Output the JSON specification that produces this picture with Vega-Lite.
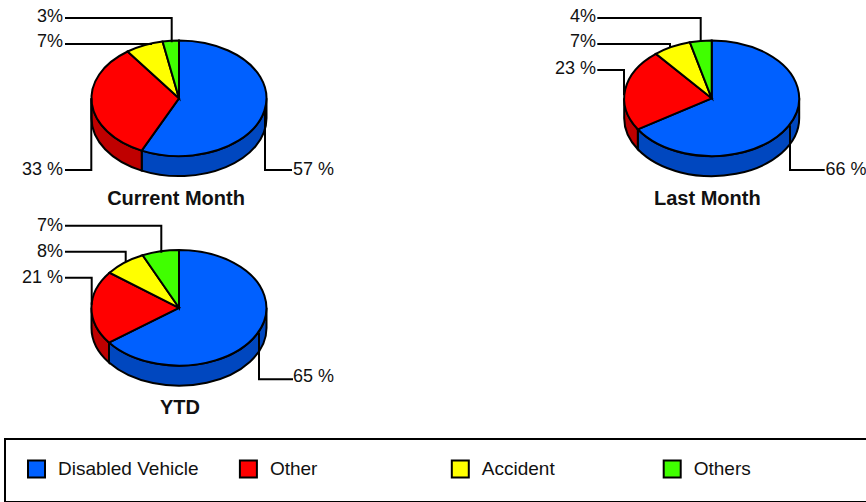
{"$schema":"https://vega.github.io/schema/vega-lite/v6.json","width":866,"height":502,"padding":0,"autosize":{"type":"none"},"background":"white","config":{"view":{"stroke":null},"font":"Liberation Sans","legend":{"strokeWidth":2}},
"datasets":{"slices":[
{"chart":"Current Month","panel":0,"category":"Disabled Vehicle","share":57,"label":"57 %","slice":0},
{"chart":"Current Month","panel":0,"category":"Other","share":33,"label":"33 %","slice":1},
{"chart":"Current Month","panel":0,"category":"Accident","share":7,"label":"7%","slice":2},
{"chart":"Current Month","panel":0,"category":"Others","share":3,"label":"3%","slice":3},
{"chart":"Last Month","panel":1,"category":"Disabled Vehicle","share":66,"label":"66 %","slice":4},
{"chart":"Last Month","panel":1,"category":"Other","share":23,"label":"23 %","slice":5},
{"chart":"Last Month","panel":1,"category":"Accident","share":7,"label":"7%","slice":6},
{"chart":"Last Month","panel":1,"category":"Others","share":4,"label":"4%","slice":7},
{"chart":"YTD","panel":2,"category":"Disabled Vehicle","share":65,"label":"65 %","slice":8},
{"chart":"YTD","panel":2,"category":"Other","share":21,"label":"21 %","slice":9},
{"chart":"YTD","panel":2,"category":"Accident","share":8,"label":"8%","slice":10},
{"chart":"YTD","panel":2,"category":"Others","share":7,"label":"7%","slice":11}],
"charts":[{"chart":"Current Month","panel":0},{"chart":"Last Month","panel":1},{"chart":"YTD","panel":2}]},
"layer":[
{"data":{"name":"slices"},"transform":[{"filter":"datum.category==='Disabled Vehicle'||datum.category==='Other'"}],
"mark":{"type":"point","filled":true,"opacity":1,"stroke":"black","strokeWidth":2,"size":4},
"encoding":{"x":{"field":"panel","type":"quantitative","axis":null,"scale":{"domain":[0,1,2],"range":[179,711.7,179],"zero":false,"nice":false}},
"y":{"field":"panel","type":"quantitative","axis":null,"scale":{"domain":[0,1,2],"range":[98.3,98.3,307.8],"zero":false,"nice":false}},
"fill":{"field":"category","type":"nominal","legend":null,"scale":{"domain":["Disabled Vehicle","Other"],"range":["#0047BF","#BF0000"]}},
"shape":{"field":"slice","type":"nominal","legend":null,"scale":{"domain":[0,1,4,5,8,9],"range":[
"M87.5,0L87.5,20A87.5,57.8,0,0,1,-37.3,72.3L-37.3,52.3A87.5,57.8,0,0,0,87.5,0Z",
"M-37.3,52.3L-37.3,72.3A87.5,57.8,0,0,1,-87.5,20L-87.5,0A87.5,57.8,0,0,0,-37.3,52.3Z",
"M87.5,0L87.5,20A87.5,57.8,0,0,1,-73.9,51L-73.9,31A87.5,57.8,0,0,0,87.5,0Z",
"M-73.9,31L-73.9,51A87.5,57.8,0,0,1,-87.5,20L-87.5,0A87.5,57.8,0,0,0,-73.9,31Z",
"M87.5,0L87.5,20A87.5,57.8,0,0,1,-70,54.8L-70,34.8A87.5,57.8,0,0,0,87.5,0Z",
"M-70,34.8L-70,54.8A87.5,57.8,0,0,1,-87.5,20L-87.5,0A87.5,57.8,0,0,0,-70,34.8Z"]}}}},
{"data":{"name":"slices"},
"mark":{"type":"point","filled":true,"opacity":1,"stroke":"black","strokeWidth":2,"size":4},
"encoding":{"x":{"field":"panel","type":"quantitative","axis":null,"scale":{"domain":[0,1,2],"range":[179,711.7,179],"zero":false,"nice":false}},
"y":{"field":"panel","type":"quantitative","axis":null,"scale":{"domain":[0,1,2],"range":[98.3,98.3,307.8],"zero":false,"nice":false}},
"fill":{"field":"category","type":"nominal","scale":{"domain":["Disabled Vehicle","Other","Accident","Others"],"range":["#0060FF","#FF0000","#FFFF00","#40FF00"]},
"legend":{"title":" ","titleOrient":"right","titlePadding":120,"orient":"none","legendX":5,"legendY":439,"columns":4,"gridAlign":"all","columnPadding":36.9,"padding":20.5,"symbolOffset":1.5,"symbolType":"square","symbolSize":289,"symbolStrokeColor":"black","symbolStrokeWidth":2,"symbolOpacity":1,"strokeColor":"black","labelFont":"Liberation Sans","labelFontSize":19,"labelColor":"#111111","labelOffset":12,"labelLimit":220}},
"shape":{"field":"slice","type":"nominal","legend":null,"scale":{"domain":[0,1,2,3,4,5,6,7,8,9,10,11],"range":[
"M0,0L0,-57.8A87.5,57.8,0,1,1,-37.3,52.3Z",
"M0,0L-37.3,52.3A87.5,57.8,0,0,1,-51.4,-46.8Z",
"M0,0L-51.4,-46.8A87.5,57.8,0,0,1,-16.4,-56.8Z",
"M0,0L-16.4,-56.8A87.5,57.8,0,0,1,0,-57.8Z",
"M0,0L0,-57.8A87.5,57.8,0,1,1,-73.9,31Z",
"M0,0L-73.9,31A87.5,57.8,0,0,1,-55.8,-44.5Z",
"M0,0L-55.8,-44.5A87.5,57.8,0,0,1,-21.8,-56Z",
"M0,0L-21.8,-56A87.5,57.8,0,0,1,0,-57.8Z",
"M0,0L0,-57.8A87.5,57.8,0,1,1,-70,34.8Z",
"M0,0L-70,34.8A87.5,57.8,0,0,1,-69.5,-35.1Z",
"M0,0L-69.5,-35.1A87.5,57.8,0,0,1,-36.3,-52.6Z",
"M0,0L-36.3,-52.6A87.5,57.8,0,0,1,0,-57.8Z"]}}}},
{"data":{"name":"slices"},
"mark":{"type":"point","filled":false,"opacity":1,"stroke":"black","strokeWidth":2,"size":4},
"encoding":{"x":{"field":"panel","type":"quantitative","axis":null,"scale":{"domain":[0,1,2],"range":[179,711.7,179],"zero":false,"nice":false}},
"y":{"field":"panel","type":"quantitative","axis":null,"scale":{"domain":[0,1,2],"range":[98.3,98.3,307.8],"zero":false,"nice":false}},
"shape":{"field":"slice","type":"nominal","legend":null,"scale":{"domain":[0,1,2,3,4,5,6,7,8,9,10,11],"range":[
"M113,71.7L86,71.7L86,12",
"M-114,71.7L-87.7,71.7L-87.7,0",
"M-114,-54.3L-27,-54.3",
"M-114,-80.3L-7.3,-80.3L-7.3,-56",
"M113,71.7L78.3,71.7L78.3,27",
"M-114.4,-28.3L-87.7,-28.3L-87.7,-3",
"M-114.4,-54.3L-41.7,-54.3L-41.7,-51",
"M-114.4,-80.3L-11,-80.3L-11,-56.5",
"M114,71.5L80,71.5L80,25",
"M-114,-30.1L-87.3,-30.1L-87.3,-3",
"M-114,-56.1L-53.3,-56.1L-53.3,-46",
"M-114,-82L-17.7,-82L-17.7,-55"]}}}},
{"data":{"name":"slices"},"transform":[{"filter":"datum.category!=='Disabled Vehicle'"}],
"mark":{"type":"text","align":"right","baseline":"middle","fontSize":18,"font":"Liberation Sans","color":"#111111"},
"encoding":{"x":{"field":"panel","type":"quantitative","axis":null,"scale":{"domain":[0,1,2],"range":[63,596,63],"zero":false,"nice":false}},
"y":{"field":"slice","type":"quantitative","axis":null,"scale":{"domain":[1,2,3,5,6,7,9,10,11],"range":[170,42,17,69,42,17,278,251.5,225.5],"zero":false,"nice":false}},
"text":{"field":"label"}}},
{"data":{"name":"slices"},"transform":[{"filter":"datum.category==='Disabled Vehicle'"}],
"mark":{"type":"text","align":"left","baseline":"middle","fontSize":18,"font":"Liberation Sans","color":"#111111"},
"encoding":{"x":{"field":"panel","type":"quantitative","axis":null,"scale":{"domain":[0,1,2],"range":[293,825.5,293],"zero":false,"nice":false}},
"y":{"field":"panel","type":"quantitative","axis":null,"scale":{"domain":[0,1,2],"range":[170,170,377],"zero":false,"nice":false}},
"text":{"field":"label"}}},
{"data":{"name":"charts"},
"mark":{"type":"text","align":"center","baseline":"middle","fontSize":20,"fontWeight":"bold","font":"Liberation Sans","color":"#111111"},
"encoding":{"x":{"field":"panel","type":"quantitative","axis":null,"scale":{"domain":[0,1,2],"range":[176,707.3,180],"zero":false,"nice":false}},
"y":{"field":"panel","type":"quantitative","axis":null,"scale":{"domain":[0,1,2],"range":[199,199,408],"zero":false,"nice":false}},
"text":{"field":"chart"}}}
],
"resolve":{"scale":{"x":"independent","y":"independent","fill":"independent","shape":"independent"}}}
